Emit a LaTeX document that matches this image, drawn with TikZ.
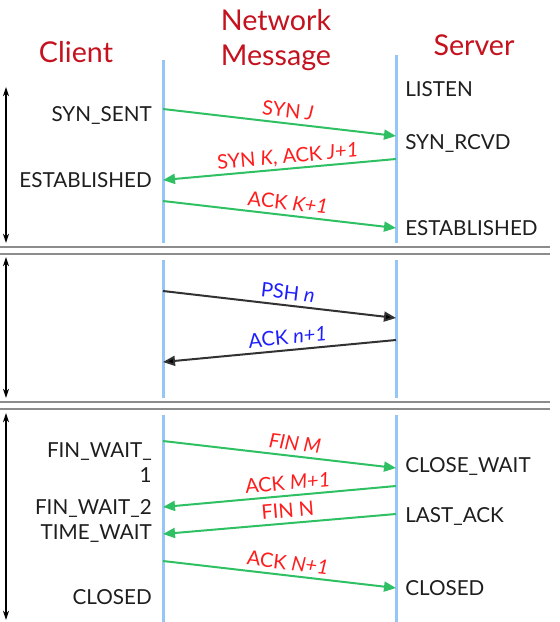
\documentclass[tikz,border=0pt]{standalone}
\usepackage{fontspec}
\setmainfont{Lato}
\usetikzlibrary{arrows.meta}
\definecolor{titlered}{RGB}{196,18,30}
\definecolor{lblred}{RGB}{255,28,28}
\definecolor{lblblue}{RGB}{30,30,255}
\definecolor{lifeblue}{RGB}{150,198,246}
\definecolor{msggreen}{RGB}{46,192,98}
\definecolor{datagray}{RGB}{50,50,50}
\definecolor{sepgray}{RGB}{140,140,140}
\definecolor{statetext}{RGB}{30,30,30}
\begin{document}
\begin{tikzpicture}[x=0.75pt,y=-0.75pt,
  title/.style={text=titlered,font=\fontsize{21.5}{26}\selectfont,align=center,inner sep=0pt},
  stateL/.style={anchor=base east,text=statetext,font=\fontsize{15.5}{18.75}\selectfont,inner sep=0pt},
  stateR/.style={anchor=base west,text=statetext,font=\fontsize{15.5}{18.75}\selectfont,inner sep=0pt},
  life/.style={lifeblue,line width=2.25pt},
  msg/.style={msggreen,line width=1.5pt,-{Triangle[length=9pt,width=7.5pt]}},
  data/.style={datagray,line width=1.5pt,-{Triangle[length=9pt,width=7.5pt,fill=black]}},
  lbl/.style={sloped,anchor=south,pos=0.53,text depth=0pt,inner sep=3.5pt,text=lblred,font=\fontsize{15}{18}\selectfont},
  lblback/.style={lbl,pos=0.46},
  lblb/.style={lbl,text=lblblue},
  lblbback/.style={lblback,text=lblblue},
  sep/.style={sepgray,line width=1.5pt},
  span/.style={black,line width=0.9pt,{Stealth[length=7pt,width=4.5pt]}-{Stealth[length=7pt,width=4.5pt]}}
]
\useasboundingbox (0,0) rectangle (560,622);
% titles
\node[title] (tclient) at (76,52) {Client};
\node[title] (tnet) at (276,40) {Network\\Message};
\node[title] (tserver) at (474,45) {Server};
% separators
\coordinate (s1a) at (0,247); \coordinate (s1b) at (550,247);
\coordinate (s2a) at (0,253.5); \coordinate (s2b) at (550,253.5);
\coordinate (s3a) at (0,402); \coordinate (s3b) at (550,402);
\coordinate (s4a) at (0,408.5); \coordinate (s4b) at (550,408.5);
\draw[sep] (s1a) -- (s1b);
\draw[sep] (s2a) -- (s2b);
\draw[sep] (s3a) -- (s3b);
\draw[sep] (s4a) -- (s4b);
% span arrows
\coordinate (a1t) at (6,87); \coordinate (a1b) at (6,243);
\coordinate (a2t) at (6,257); \coordinate (a2b) at (6,398);
\coordinate (a3t) at (6,413); \coordinate (a3b) at (6,620);
\draw[span] (a1t) -- (a1b);
\draw[span] (a2t) -- (a2b);
\draw[span] (a3t) -- (a3b);
% lifelines
\coordinate (c1t) at (163,60);  \coordinate (c1b) at (163,243);
\coordinate (v1t) at (396,55);  \coordinate (v1b) at (396,243);
\coordinate (c2t) at (163,260); \coordinate (c2b) at (163,398);
\coordinate (v2t) at (396,260); \coordinate (v2b) at (396,398);
\coordinate (c3t) at (163,415); \coordinate (c3b) at (163,622);
\coordinate (v3t) at (396,415); \coordinate (v3b) at (396,622);
\draw[life] (c1t) -- (c1b);
\draw[life] (v1t) -- (v1b);
\draw[life] (c2t) -- (c2b);
\draw[life] (v2t) -- (v2b);
\draw[life] (c3t) -- (c3b);
\draw[life] (v3t) -- (v3b);
% states, section 1
\node[stateL] (synsent) at (152,121.5) {SYN\_SENT};
\node[stateL] (estc) at (152,187.5) {ESTABLISHED};
\node[stateR] (listen) at (405,96.5) {LISTEN};
\node[stateR] (synrcvd) at (405,149.5) {SYN\_RCVD};
\node[stateR] (ests) at (405,235.5) {ESTABLISHED};
% states, section 3
\node[anchor=east,text=statetext,font=\fontsize{15.5}{18.75}\selectfont,inner sep=0pt,align=right] (fw1) at (152,462.5) {FIN\_WAIT\_\\1};
\node[stateL] (fw2) at (152,514.5) {FIN\_WAIT\_2};
\node[stateL] (tw) at (152,539.5) {TIME\_WAIT};
\node[stateL] (closedc) at (152,604.5) {CLOSED};
\node[stateR] (closewait) at (405,472.5) {CLOSE\_WAIT};
\node[stateR] (lastack) at (405,522.5) {LAST\_ACK};
\node[stateR] (closeds) at (405,595.5) {CLOSED};
% messages, section 1
\coordinate (m1a) at (163,109); \coordinate (m1b) at (396,136);
\coordinate (m2a) at (396,159); \coordinate (m2b) at (163,180);
\coordinate (m3a) at (163,201); \coordinate (m3b) at (396,228);
\draw[msg] (m1a) -- node[lbl] (l1) {SYN \textit{J}} (m1b);
\draw[msg] (m2a) -- node[lblback] (l2) {SYN \textit{K}, ACK \textit{J+1}} (m2b);
\draw[msg] (m3a) -- node[lbl] (l3) {ACK \textit{K+1}} (m3b);
% section 2
\coordinate (d1a) at (163,291); \coordinate (d1b) at (396,318);
\coordinate (d2a) at (396,340); \coordinate (d2b) at (163,362);
\draw[data] (d1a) -- node[lblb] (l4) {PSH \textit{n}} (d1b);
\draw[data] (d2a) -- node[lblbback] (l5) {ACK \textit{n+1}} (d2b);
% section 3
\coordinate (f1a) at (163,441); \coordinate (f1b) at (396,468);
\coordinate (f2a) at (396,486); \coordinate (f2b) at (163,507);
\coordinate (f3a) at (396,514); \coordinate (f3b) at (163,534);
\coordinate (f4a) at (163,561); \coordinate (f4b) at (396,588);
\draw[msg] (f1a) -- node[lbl,pos=0.56] (l6) {\textit{FIN M}} (f1b);
\draw[msg] (f2a) -- node[lblback] (l7) {ACK \textit{M+1}} (f2b);
\draw[msg] (f3a) -- node[lblback] (l8) {FIN N} (f3b);
\draw[msg] (f4a) -- node[lbl] (l9) {ACK \textit{N+1}} (f4b);
\end{tikzpicture}
\end{document}
